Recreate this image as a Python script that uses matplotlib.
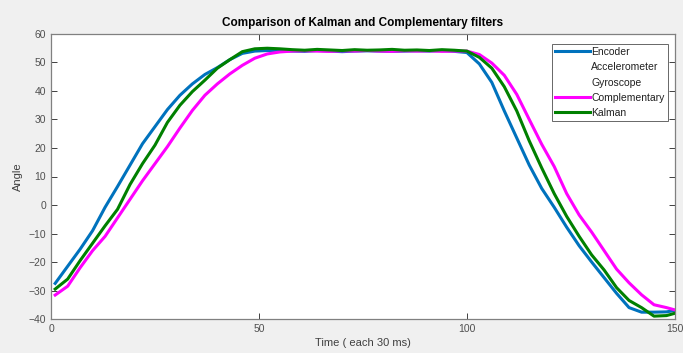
import matplotlib
matplotlib.use("Agg")
import matplotlib.pyplot as plt
from matplotlib.lines import Line2D

time = [1, 4, 7, 10, 13, 16, 19, 22, 25, 28, 31, 34, 37, 40, 43, 46, 49, 52, 55, 58,
        61, 64, 67, 70, 73, 76, 79, 82, 85, 88, 91, 94, 97, 100, 103, 106, 109, 112,
        115, 118, 121, 124, 127, 130, 133, 136, 139, 142, 145, 148, 150]

encoder = [-27.5, -21.5, -15.5, -9.0, -0.8, 6.5, 14.0, 21.5, 27.5, 33.5, 38.5, 42.5,
           45.8, 48.2, 51.0, 53.2, 54.0, 54.2, 54.1, 54.0, 53.9, 54.2, 54.0, 53.8, 54.0,
           54.1, 54.0, 53.9, 54.0, 54.1, 54.0, 54.2, 53.9, 53.5, 49.5, 43.0, 33.0, 23.5,
           14.0, 5.8, -0.8, -7.8, -14.3, -20.0, -25.5, -31.0, -36.0, -37.6, -37.6, -37.5,
           -37.0]

complementary = [-31.6, -28.5, -22.0, -16.0, -11.0, -4.5, 2.0, 8.5, 14.5, 20.5, 27.0,
                 33.2, 38.5, 42.5, 46.0, 49.0, 51.5, 53.0, 53.7, 54.0, 54.1, 54.0, 53.9,
                 54.1, 54.0, 54.2, 54.0, 53.9, 54.1, 54.0, 54.1, 53.9, 54.0, 54.0, 52.8,
                 49.8, 45.5, 38.8, 30.0, 21.3, 13.5, 4.0, -3.5, -9.5, -16.0, -22.5,
                 -27.3, -31.5, -35.0, -36.0, -36.8]

kalman = [-29.5, -26.0, -19.5, -13.4, -7.3, -1.5, 7.2, 14.5, 21.0, 29.0, 35.0, 39.8,
          43.8, 48.0, 51.0, 53.8, 54.8, 55.0, 54.8, 54.5, 54.3, 54.6, 54.4, 54.2, 54.5,
          54.3, 54.4, 54.6, 54.3, 54.4, 54.2, 54.5, 54.3, 54.0, 51.8, 48.0, 41.5, 33.0,
          22.5, 13.0, 4.0, -4.0, -11.0, -17.5, -22.8, -29.0, -33.5, -36.0, -39.0,
          -38.8, -38.0]

legend_labels = ["Encoder", "Accelerometer", "Gyroscope", "Complementary", "Kalman"]
x_ticks = [0, 50, 100, 150]
y_ticks = [-40, -30, -20, -10, 0, 10, 20, 30, 40, 50, 60]

plt.rcParams['font.family'] = ['Liberation Sans', 'DejaVu Sans']

fig = plt.figure(figsize=(6.83, 3.53), dpi=100, facecolor='#f0f0f0')
ax = fig.add_axes([0.0747, 0.0963, 0.9133, 0.8074])
ax.set_facecolor('white')

c_enc = '#0072BD'
c_comp = '#FF00FF'
c_kal = '#008000'
lw = 2.2

ax.plot(time, encoder, color=c_enc, lw=lw)
ax.plot(time, complementary, color=c_comp, lw=lw)
ax.plot(time, kalman, color=c_kal, lw=lw)

ax.set_xlim(0, 150)
ax.set_ylim(-40, 60)
ax.set_xticks(x_ticks)
ax.set_yticks(y_ticks)

for s in ax.spines.values():
    s.set_color('#808080')
    s.set_linewidth(0.9)
ax.tick_params(direction='in', length=4, width=0.7, color='#404040',
               labelcolor='#505050', labelsize=7.5, top=True, right=True)

ax.set_title("Comparison of Kalman and Complementary filters", fontsize=8.5,
             fontweight='bold', color='black', pad=6)
ax.set_xlabel("Time ( each 30 ms)", fontsize=8, color='#404040', labelpad=3)
ax.set_ylabel("Angle", fontsize=8, color='#404040', labelpad=4)

handles = [
    Line2D([], [], color=c_enc, lw=lw),
    Line2D([], [], color='none', lw=lw),
    Line2D([], [], color='none', lw=lw),
    Line2D([], [], color=c_comp, lw=lw),
    Line2D([], [], color=c_kal, lw=lw),
]
leg = ax.legend(handles, legend_labels, loc='upper right', fontsize=7.5,
                frameon=True, fancybox=False, edgecolor='#404040',
                handlelength=3.4, handletextpad=0.1, labelspacing=0.5,
                borderpad=0.3, borderaxespad=0.0,
                bbox_to_anchor=(0.989, 0.965))
leg.get_frame().set_linewidth(0.7)
for t in leg.get_texts():
    t.set_color('#202020')

fig.savefig('out.png', dpi=100, facecolor=fig.get_facecolor())
